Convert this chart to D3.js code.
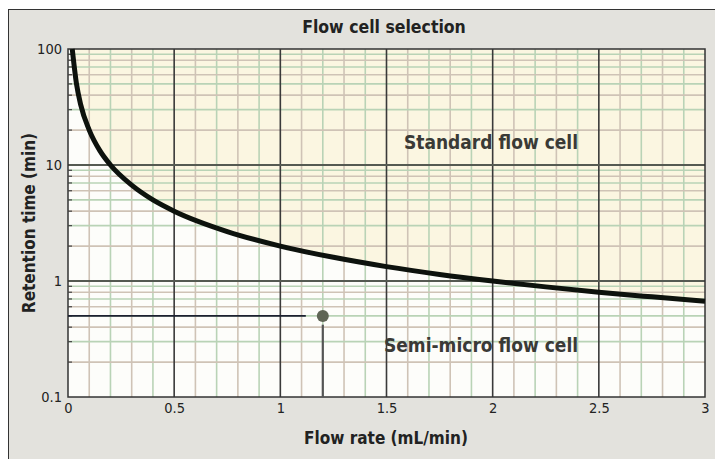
<!DOCTYPE html>
<html>
<head>
<meta charset="utf-8">
<script src="https://cdn.jsdelivr.net/npm/d3@7"></script>
<style>
  body { margin: 0; background: #fff; }
  svg { display: block; }
  text { font-family: "Liberation Sans Narrow", "DejaVu Sans Condensed", "Liberation Sans", sans-serif; fill: #222; }
</style>
</head>
<body>
<div id="main"></div>
<script>
// curve (flow rate mL/min, retention time min)
const curveFlow = [0.02, 0.04, 0.06, 0.1, 0.15, 0.2, 0.3, 0.4, 0.5, 0.75, 1, 1.25, 1.5, 1.75, 2, 2.25, 2.5, 2.75, 3];
const curveTime = [100, 50, 33, 20, 13.3, 10, 6.7, 5, 4, 2.67, 2, 1.6, 1.33, 1.14, 1.0, 0.89, 0.8, 0.73, 0.67];

const xTicks = [0, 0.5, 1, 1.5, 2, 2.5, 3];
const yTicks = [0.1, 1, 10, 100];
const point = {flow: 1.2, time: 0.5};

const labels = {
  title: 'Flow cell selection',
  x: 'Flow rate (mL/min)',
  y: 'Retention time (min)',
  upper: 'Standard flow cell',
  lower: 'Semi-micro flow cell'
};

const width = 715, height = 459;
const margin = {left: 68, right: 10, top: 49, bottom: 62};

const svg = d3.select('#main').append('svg')
    .attr('width', width)
    .attr('height', height);

// panel
svg.append('rect')
    .attr('x', 8.5).attr('y', 9.5)
    .attr('width', 720).attr('height', 460)
    .attr('fill', '#e3e2dd')
    .attr('stroke', '#333')
    .attr('stroke-width', 1);

const x = d3.scaleLinear()
    .domain([0, 3])
    .range([margin.left, width - margin.right]);

const y = d3.scaleLog()
    .domain([0.1, 100])
    .range([height - margin.bottom, margin.top]);

const curveData = curveFlow.map((d, i) => ({flow: d, time: curveTime[i]}));

// plot background (below curve)
svg.append('rect')
    .attr('x', x(0)).attr('y', y(100))
    .attr('width', x(3) - x(0)).attr('height', y(0.1) - y(100))
    .attr('fill', '#fdfdfa');

// region above the curve
const area = d3.area()
    .x(d => x(d.flow))
    .y0(y(100))
    .y1(d => y(d.time))
    .curve(d3.curveMonotoneX);

svg.append('path')
    .datum([{flow: 0, time: 100}].concat(curveData))
    .attr('d', area)
    .attr('fill', '#fbf6e1');

// minor vertical grid
const xMinor = d3.range(1, 30).map(d => d / 10).filter(d => Math.round(d * 10) % 5 !== 0);
svg.append('g')
  .selectAll('line')
  .data(xMinor)
  .join('line')
    .attr('x1', d => x(d)).attr('x2', d => x(d))
    .attr('y1', y(100)).attr('y2', y(0.1))
    .attr('stroke', (d, i) => i % 2 ? '#b9d3b6' : '#cfc3b6')
    .attr('stroke-width', 1.6);

// minor horizontal grid
const yMinor = [];
[0.1, 1, 10].forEach(dec => d3.range(2, 10).forEach(k => yMinor.push(dec * k)));
svg.append('g')
  .selectAll('line')
  .data(yMinor)
  .join('line')
    .attr('x1', x(0)).attr('x2', x(3))
    .attr('y1', d => y(d)).attr('y2', d => y(d))
    .attr('stroke', (d, i) => i % 2 ? '#b9d3b6' : '#cfc3b6')
    .attr('stroke-width', 1.6);

// major grid
svg.append('g')
  .selectAll('line')
  .data(xTicks.slice(1, -1))
  .join('line')
    .attr('x1', d => x(d)).attr('x2', d => x(d))
    .attr('y1', y(100)).attr('y2', y(0.1))
    .attr('stroke', '#3a3a3a')
    .attr('stroke-width', 1.6);

svg.append('g')
  .selectAll('line')
  .data([1, 10])
  .join('line')
    .attr('x1', x(0)).attr('x2', x(3))
    .attr('y1', d => y(d)).attr('y2', d => y(d))
    .attr('stroke', '#555a52')
    .attr('stroke-width', 2.2);

// plot frame
svg.append('rect')
    .attr('x', x(0)).attr('y', y(100))
    .attr('width', x(3) - x(0)).attr('height', y(0.1) - y(100))
    .attr('fill', 'none')
    .attr('stroke', '#333')
    .attr('stroke-width', 1.5);

// y minor ticks on the axis
svg.append('g')
  .selectAll('line')
  .data(yMinor)
  .join('line')
    .attr('x1', x(0)).attr('x2', x(0) + 4)
    .attr('y1', d => y(d)).attr('y2', d => y(d))
    .attr('stroke', '#444')
    .attr('stroke-width', 1.2);

// axes labels
const xAxis = d3.axisBottom(x)
    .tickValues(xTicks)
    .tickSize(0)
    .tickPadding(6)
    .tickFormat(d3.format('~g'));

svg.append('g')
    .attr('transform', `translate(0,${y(0.1)})`)
    .call(xAxis)
    .call(g => g.select('.domain').remove())
    .call(g => g.selectAll('text')
        .style('font-size', '14.5px')
        .style('fill', '#222'));

const yAxis = d3.axisLeft(y)
    .tickValues(yTicks)
    .tickSize(0)
    .tickPadding(6)
    .tickFormat(d3.format('~g'));

svg.append('g')
    .attr('transform', `translate(${x(0)},0)`)
    .call(yAxis)
    .call(g => g.select('.domain').remove())
    .call(g => g.selectAll('text')
        .style('font-size', '14.5px')
        .style('fill', '#222'));

// reading lines to the example point
svg.append('line')
    .attr('x1', x(0)).attr('x2', x(1.12))
    .attr('y1', y(point.time)).attr('y2', y(point.time))
    .attr('stroke', '#1c2030')
    .attr('stroke-width', 1.8);

svg.append('line')
    .attr('x1', x(point.flow)).attr('x2', x(point.flow))
    .attr('y1', y(0.1)).attr('y2', y(0.42))
    .attr('stroke', '#555')
    .attr('stroke-width', 2.2);

svg.append('circle')
    .attr('cx', x(point.flow)).attr('cy', y(point.time))
    .attr('r', 6)
    .attr('fill', '#5f6555');

// curve
const line = d3.line()
    .x(d => x(d.flow))
    .y(d => y(d.time))
    .curve(d3.curveMonotoneX);

svg.append('path')
    .datum(curveData)
    .attr('d', line)
    .attr('fill', 'none')
    .attr('stroke', '#0d120d')
    .attr('stroke-width', 5);

// texts
svg.append('text')
    .attr('x', 384).attr('y', 33)
    .attr('text-anchor', 'middle')
    .style('font-size', '17.5px')
    .style('font-weight', 'bold')
    .text(labels.title);

svg.append('text')
    .attr('x', 491).attr('y', 149)
    .attr('text-anchor', 'middle')
    .style('font-size', '19px')
    .style('font-weight', 'bold')
    .style('fill', '#3a3a36')
    .text(labels.upper);

svg.append('text')
    .attr('x', 481).attr('y', 352)
    .attr('text-anchor', 'middle')
    .style('font-size', '19px')
    .style('font-weight', 'bold')
    .style('fill', '#3a3a36')
    .text(labels.lower);

svg.append('text')
    .attr('x', 386).attr('y', 444)
    .attr('text-anchor', 'middle')
    .style('font-size', '17px')
    .style('font-weight', 'bold')
    .text(labels.x);

svg.append('text')
    .attr('transform', `translate(35,${(y(100) + y(0.1)) / 2}) rotate(-90)`)
    .attr('text-anchor', 'middle')
    .style('font-size', '17px')
    .style('font-weight', 'bold')
    .text(labels.y);
</script>
</body>
</html>
